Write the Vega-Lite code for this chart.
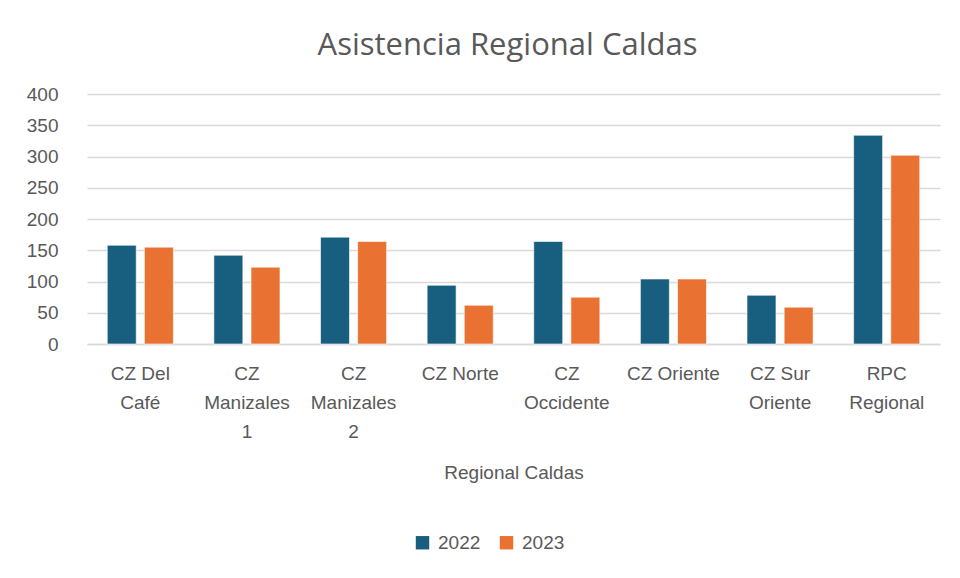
{
  "$schema": "https://vega.github.io/schema/vega-lite/v6.json",
  "autosize": "none",
  "width": 853,
  "height": 250,
  "padding": {"left": 87, "top": 94, "right": 20, "bottom": 234},
  "background": "white",
  "title": {
    "text": "Asistencia Regional Caldas",
    "fontSize": 31,
    "font": "Open Sans",
    "fontWeight": "normal",
    "color": "#595959",
    "anchor": "middle",
    "offset": 23,
    "dx": -6
  },
  "config": {
    "view": {"stroke": null},
    "font": "Liberation Sans"
  },
  "data": {
    "values": [
      {"regional": "CZ Del Café", "year": "2022", "value": 158},
      {"regional": "CZ Del Café", "year": "2023", "value": 155},
      {"regional": "CZ Manizales 1", "year": "2022", "value": 142},
      {"regional": "CZ Manizales 1", "year": "2023", "value": 123},
      {"regional": "CZ Manizales 2", "year": "2022", "value": 171},
      {"regional": "CZ Manizales 2", "year": "2023", "value": 164},
      {"regional": "CZ Norte", "year": "2022", "value": 94},
      {"regional": "CZ Norte", "year": "2023", "value": 62},
      {"regional": "CZ Occidente", "year": "2022", "value": 164},
      {"regional": "CZ Occidente", "year": "2023", "value": 75},
      {"regional": "CZ Oriente", "year": "2022", "value": 104},
      {"regional": "CZ Oriente", "year": "2023", "value": 104},
      {"regional": "CZ Sur Oriente", "year": "2022", "value": 78},
      {"regional": "CZ Sur Oriente", "year": "2023", "value": 59},
      {"regional": "RPC Regional", "year": "2022", "value": 334},
      {"regional": "RPC Regional", "year": "2023", "value": 302}
    ]
  },
  "mark": {"type": "bar", "stroke": "white", "strokeOpacity": 0.6, "strokeWidth": 1},
  "encoding": {
    "x": {
      "field": "regional",
      "type": "nominal",
      "sort": null,
      "scale": {"paddingInner": 0.38, "paddingOuter": 0.19},
      "axis": {
        "title": "Regional Caldas",
        "titleFont": "Liberation Sans",
        "titleFontSize": 19,
        "titleFontWeight": "normal",
        "titleColor": "#595959",
        "titlePadding": 22,
        "labelAngle": 0,
        "labelFontSize": 19,
        "labelColor": "#595959",
        "labelLineHeight": 29,
        "labelPadding": 20,
        "labelBaseline": "top",
        "labelLimit": 200,
        "labelExpr": "{'CZ Del Café': ['CZ Del', 'Café'], 'CZ Manizales 1': ['CZ', 'Manizales', '1'], 'CZ Manizales 2': ['CZ', 'Manizales', '2'], 'CZ Norte': ['CZ Norte'], 'CZ Occidente': ['CZ', 'Occidente'], 'CZ Oriente': ['CZ Oriente'], 'CZ Sur Oriente': ['CZ Sur', 'Oriente'], 'RPC Regional': ['RPC', 'Regional']}[datum.label]",
        "ticks": false,
        "domain": true,
        "domainColor": "#d9d9d9",
        "domainWidth": 1.5
      }
    },
    "xOffset": {
      "field": "year",
      "type": "nominal",
      "scale": {"paddingInner": 0.22, "paddingOuter": 0}
    },
    "y": {
      "field": "value",
      "type": "quantitative",
      "scale": {"domain": [0, 400]},
      "axis": {
        "title": null,
        "values": [0, 50, 100, 150, 200, 250, 300, 350, 400],
        "labelFontSize": 19,
        "labelColor": "#595959",
        "labelPadding": 29,
        "ticks": false,
        "domain": false,
        "gridColor": "#d9d9d9",
        "gridWidth": 1.5
      }
    },
    "color": {
      "field": "year",
      "type": "nominal",
      "scale": {"domain": ["2022", "2023"], "range": ["#175E7F", "#E97132"]},
      "legend": {
        "title": null,
        "orient": "none",
        "direction": "horizontal",
        "legendX": 326,
        "legendY": 439,
        "symbolType": "square",
        "symbolSize": 180,
        "symbolStrokeWidth": 0,
        "labelFontSize": 19,
        "labelColor": "#595959",
        "columnPadding": 16,
        "labelOffset": 6
      }
    }
  }
}
